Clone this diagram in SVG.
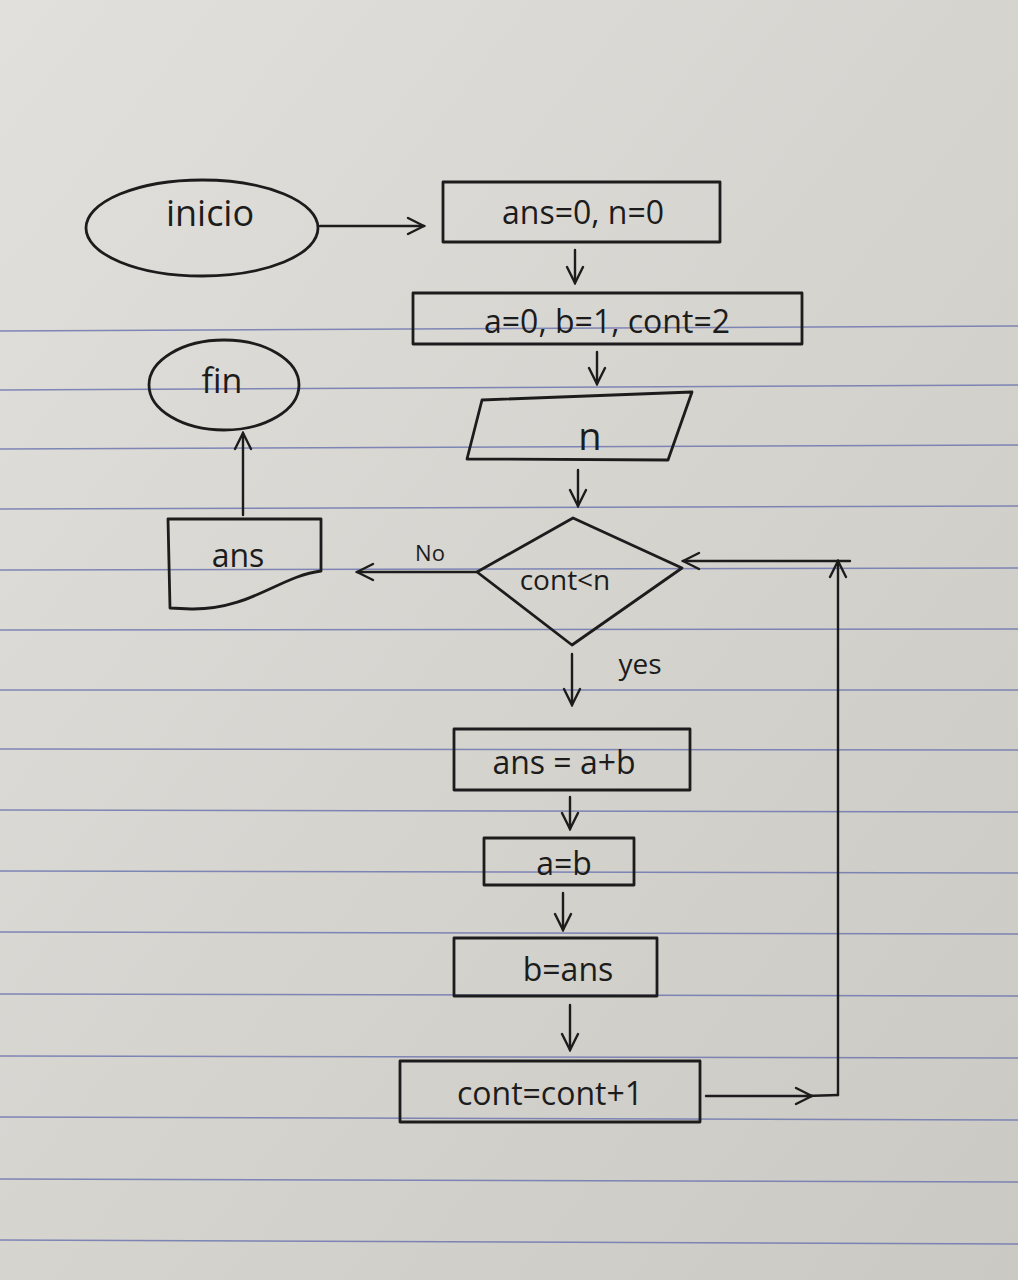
<svg xmlns="http://www.w3.org/2000/svg" width="1018" height="1280" viewBox="0 0 1018 1280">
<defs>
<linearGradient id="paper" x1="0" y1="0" x2="1" y2="1">
<stop offset="0" stop-color="#e2e0dc"/>
<stop offset="0.5" stop-color="#d6d4cf"/>
<stop offset="1" stop-color="#cbc9c3"/>
</linearGradient>
<marker id="ah" viewBox="0 0 20 20" refX="18" refY="10" markerWidth="20" markerHeight="20" markerUnits="userSpaceOnUse" orient="auto">
<path d="M2,2 L18,10 L2,18" fill="none" stroke="#1c1c1c" stroke-width="2.4" stroke-linecap="round"/>
</marker>
<style>
.s{fill:none;stroke:#1c1c1c;stroke-width:2.8;stroke-linecap:round;stroke-linejoin:round}
.c{fill:none;stroke:#1c1c1c;stroke-width:2.4;stroke-linecap:round;marker-end:url(#ah)}
.l{fill:none;stroke:#1c1c1c;stroke-width:2.4;stroke-linecap:round}
.t{font-family:"Open Sans","Liberation Sans",sans-serif;font-weight:400;fill:#1c1c1c;text-anchor:middle}
.r{stroke:#6f77b0;stroke-width:1.6;opacity:0.85}
</style>
</defs>
<rect width="1018" height="1280" fill="url(#paper)"/>
<g id="rules">
<line class="r" x1="0" y1="331" x2="1018" y2="326"/>
<line class="r" x1="0" y1="390" x2="1018" y2="385"/>
<line class="r" x1="0" y1="449" x2="1018" y2="445"/>
<line class="r" x1="0" y1="509" x2="1018" y2="506"/>
<line class="r" x1="0" y1="570" x2="1018" y2="568"/>
<line class="r" x1="0" y1="630" x2="1018" y2="629"/>
<line class="r" x1="0" y1="690" x2="1018" y2="690"/>
<line class="r" x1="0" y1="749" x2="1018" y2="750"/>
<line class="r" x1="0" y1="810" x2="1018" y2="812"/>
<line class="r" x1="0" y1="871" x2="1018" y2="873"/>
<line class="r" x1="0" y1="932" x2="1018" y2="934"/>
<line class="r" x1="0" y1="994" x2="1018" y2="996"/>
<line class="r" x1="0" y1="1056" x2="1018" y2="1058"/>
<line class="r" x1="0" y1="1117" x2="1018" y2="1120"/>
<line class="r" x1="0" y1="1179" x2="1018" y2="1182"/>
<line class="r" x1="0" y1="1240" x2="1018" y2="1244"/>
</g>
<g id="connectors">
<line class="c" x1="320" y1="226" x2="424" y2="226"/>
<line class="c" x1="575" y1="250" x2="575" y2="283"/>
<line class="c" x1="597" y1="352" x2="597" y2="384"/>
<line class="c" x1="578" y1="470" x2="578" y2="506"/>
<line class="c" x1="477" y1="572" x2="357" y2="572"/>
<line class="c" x1="243" y1="515" x2="243" y2="433"/>
<line class="c" x1="572" y1="654" x2="572" y2="705"/>
<line class="c" x1="570" y1="797" x2="570" y2="829"/>
<line class="c" x1="563" y1="893" x2="563" y2="930"/>
<line class="c" x1="570" y1="1005" x2="570" y2="1050"/>
<line class="c" x1="706" y1="1096" x2="812" y2="1096"/>
<line class="l" x1="806" y1="1096" x2="838" y2="1095"/>
<line class="c" x1="838" y1="1095" x2="838" y2="561"/>
<line class="c" x1="850" y1="561" x2="683" y2="561"/>
<text class="t" x="430" y="561" font-size="22">No</text>
<text class="t" x="640" y="674" font-size="28">yes</text>
</g>
<g id="inicio">
<ellipse class="s" cx="202" cy="228" rx="116" ry="48"/>
<text class="t" x="210" y="226" font-size="36">inicio</text>
</g>
<g id="init1">
<rect class="s" x="443" y="182" width="277" height="60"/>
<text class="t" x="583" y="224" font-size="32">ans=0, n=0</text>
</g>
<g id="init2">
<rect class="s" x="413" y="293" width="389" height="51"/>
<text class="t" x="607" y="333" font-size="32">a=0, b=1, cont=2</text>
</g>
<g id="input">
<polygon class="s" points="482,400 692,392 668,460 467,459"/>
<text class="t" x="590" y="450" font-size="38">n</text>
</g>
<g id="decision">
<polygon class="s" points="573,518 682,568 572,645 477,572"/>
<text class="t" x="565" y="590" font-size="28">cont&lt;n</text>
</g>
<g id="output">
<path class="s" d="M168,519 L321,519 L321,571 C280,576 250,610 191,609 L170,608 Z"/>
<text class="t" x="238" y="567" font-size="32">ans</text>
</g>
<g id="fin">
<ellipse class="s" cx="224" cy="385" rx="75" ry="45"/>
<text class="t" x="222" y="393" font-size="34">fin</text>
</g>
<g id="step1">
<rect class="s" x="454" y="729" width="236" height="61"/>
<text class="t" x="564" y="774" font-size="32">ans = a+b</text>
</g>
<g id="step2">
<rect class="s" x="484" y="838" width="150" height="47"/>
<text class="t" x="564" y="875" font-size="32">a=b</text>
</g>
<g id="step3">
<rect class="s" x="454" y="938" width="203" height="58"/>
<text class="t" x="568" y="981" font-size="32">b=ans</text>
</g>
<g id="step4">
<rect class="s" x="400" y="1061" width="300" height="61"/>
<text class="t" x="550" y="1105" font-size="32">cont=cont+1</text>
</g>
</svg>
